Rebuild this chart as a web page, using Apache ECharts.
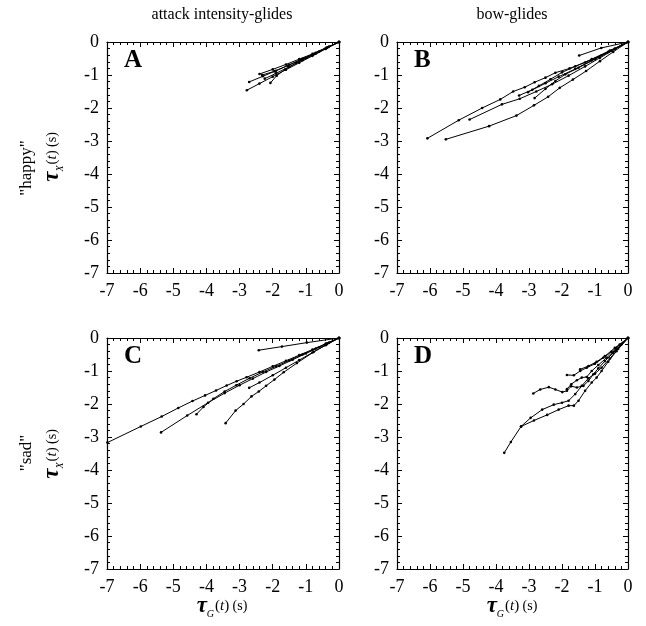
<!DOCTYPE html>
<html>
<head>
<meta charset="utf-8">
<script src="https://cdn.jsdelivr.net/npm/echarts@6/dist/echarts.min.js"></script>
<style>
html,body{margin:0;padding:0;background:#fff;}
#chart{width:646px;height:626px;}
</style>
</head>
<body>
<div id="chart"></div>
<script>
// ---- tick values ----
var tickMin = -7, tickMax = 0, tickStep = 1;

// ---- titles / labels ----
var columnTitles = ['attack intensity-glides', 'bow-glides'];
var rowLabels = ['"happy"', '"sad"'];
var panelLetters = ['A', 'B', 'C', 'D'];

// ---- Panel A: "happy", attack intensity-glides ----
var A1 = [[-2.78,-1.46],[-2.4,-1.26],[-2.0,-1.05],[-1.6,-0.84],[-1.2,-0.63],[-0.8,-0.42],[-0.4,-0.21],[0,0]];
var A2 = [[-2.71,-1.21],[-2.3,-1.04],[-1.9,-0.87],[-1.5,-0.69],[-1.1,-0.51],[-0.7,-0.33],[-0.35,-0.16],[0,0]];
var A3 = [[-2.40,-0.97],[-2.0,-0.83],[-1.6,-0.68],[-1.2,-0.52],[-0.8,-0.36],[-0.4,-0.18],[0,0]];
var A4 = [[-2.07,-1.24],[-1.88,-1.02],[-1.62,-0.83],[-1.3,-0.64],[-1.0,-0.48],[-0.6,-0.29],[-0.3,-0.14],[0,0]];
var A5 = [[-2.24,-1.11],[-1.9,-0.95],[-1.5,-0.75],[-1.1,-0.55],[-0.7,-0.35],[-0.35,-0.17],[0,0]];
var A6 = [[-2.32,-1.0],[-1.95,-0.89],[-1.55,-0.72],[-1.15,-0.54],[-0.75,-0.36],[-0.38,-0.18],[0,0]];

// ---- Panel B: "happy", bow-glides ----
var B1 = [[-6.08,-2.92],[-5.13,-2.37],[-4.42,-2.0],[-3.87,-1.74],[-3.48,-1.5],[-3.13,-1.37],[-2.83,-1.22],[-2.5,-1.08],[-2.2,-0.93],[-1.77,-0.8],[-1.3,-0.62],[-0.8,-0.4],[-0.4,-0.2],[0,0]];
var B2 = [[-5.52,-2.95],[-4.21,-2.55],[-3.38,-2.23],[-2.85,-1.92],[-2.42,-1.66],[-2.07,-1.39],[-1.67,-1.14],[-1.27,-0.88],[-0.85,-0.58],[-0.45,-0.3],[0,0]];
var B3 = [[-4.80,-2.35],[-3.82,-1.89],[-3.28,-1.72],[-2.78,-1.5],[-2.3,-1.28],[-1.8,-1.02],[-1.3,-0.74],[-0.85,-0.48],[-0.4,-0.22],[0,0]];
var B4 = [[-3.30,-1.62],[-2.9,-1.45],[-2.5,-1.25],[-2.1,-1.05],[-1.6,-0.82],[-1.1,-0.56],[-0.6,-0.3],[0,0]];
var B5 = [[-2.83,-1.70],[-2.5,-1.42],[-2.2,-1.18],[-1.9,-0.98],[-1.5,-0.78],[-1.0,-0.52],[-0.5,-0.26],[0,0]];
var B6 = [[-3.03,-1.52],[-2.7,-1.33],[-2.35,-1.13],[-2.0,-0.92],[-1.6,-0.74],[-1.1,-0.52],[-0.55,-0.26],[0,0]];
var B7 = [[-1.48,-0.41],[-0.81,-0.18],[0,0]];

// ---- Panel C: "sad", attack intensity-glides ----
var C1 = [[-6.99,-3.17],[-5.98,-2.68],[-5.35,-2.38],[-4.85,-2.12],[-4.42,-1.91],[-4.04,-1.74],[-3.71,-1.59],[-3.39,-1.44],[-3.09,-1.31],[-2.79,-1.19],[-2.4,-1.03],[-2.0,-0.86],[-1.6,-0.69],[-1.2,-0.52],[-0.8,-0.35],[-0.4,-0.17],[0,0]];
var C2 = [[-5.37,-2.86],[-4.58,-2.35],[-3.95,-1.96],[-3.45,-1.67],[-3.0,-1.43],[-2.6,-1.23],[-2.2,-1.03],[-1.8,-0.85],[-1.4,-0.66],[-1.0,-0.47],[-0.6,-0.28],[-0.3,-0.14],[0,0]];
var C3 = [[-4.30,-2.31],[-4.09,-2.09],[-3.79,-1.84],[-3.45,-1.62],[-3.1,-1.43],[-2.7,-1.22],[-2.3,-1.03],[-1.9,-0.86],[-1.5,-0.68],[-1.1,-0.5],[-0.7,-0.32],[-0.35,-0.16],[0,0]];
var C4 = [[-3.42,-2.58],[-3.12,-2.2],[-2.88,-2.0],[-2.64,-1.77],[-2.42,-1.62],[-2.2,-1.45],[-1.95,-1.26],[-1.67,-1.04],[-1.27,-0.76],[-0.76,-0.42],[-0.38,-0.2],[0,0]];
var C5 = [[-2.71,-1.51],[-2.4,-1.35],[-2.0,-1.13],[-1.6,-0.9],[-1.2,-0.67],[-0.8,-0.44],[-0.4,-0.22],[0,0]];
var C6 = [[-2.42,-0.37],[-1.72,-0.26],[-0.97,-0.14],[0,0]];

// ---- Panel D: "sad", bow-glides ----
var D1 = [[-3.75,-3.48],[-3.55,-3.15],[-3.24,-2.68],[-2.95,-2.42],[-2.6,-2.17],[-2.25,-2.02],[-2.0,-1.96],[-1.8,-1.9],[-1.6,-1.7],[-1.4,-1.45],[-1.2,-1.22],[-1.0,-1.08],[-0.8,-0.9],[-0.55,-0.62],[-0.3,-0.33],[0,0]];
var D2 = [[-3.24,-2.68],[-2.85,-2.5],[-2.45,-2.33],[-2.1,-2.17],[-1.8,-2.05],[-1.64,-2.05],[-1.5,-1.9],[-1.3,-1.6],[-1.1,-1.35],[-0.95,-1.2],[-0.8,-1.0],[-0.6,-0.72],[-0.35,-0.4],[0,0]];
var D3 = [[-2.87,-1.68],[-2.66,-1.56],[-2.4,-1.49],[-2.2,-1.56],[-1.99,-1.64],[-1.85,-1.6],[-1.72,-1.46],[-1.55,-1.5],[-1.35,-1.45],[-1.2,-1.3],[-1.05,-1.1],[-0.9,-0.92],[-0.7,-0.7],[-0.45,-0.45],[-0.2,-0.2],[0,0]];
var D4 = [[-1.85,-1.12],[-1.64,-1.13],[-1.45,-1.0],[-1.25,-0.9],[-1.0,-0.78],[-0.75,-0.6],[-0.5,-0.42],[-0.25,-0.2],[0,0]];
var D5 = [[-1.85,-1.55],[-1.72,-1.4],[-1.55,-1.28],[-1.4,-1.2],[-1.25,-1.18],[-1.1,-1.0],[-0.9,-0.82],[-0.65,-0.6],[-0.35,-0.33],[0,0]];
var D6 = [[-1.45,-0.95],[-1.2,-0.85],[-0.95,-0.72],[-0.7,-0.55],[-0.4,-0.3],[0,0]];

var panels = [
  [A1, A2, A3, A4, A5, A6],
  [B1, B2, B3, B4, B5, B6, B7],
  [C1, C2, C3, C4, C5, C6],
  [D1, D2, D3, D4, D5, D6]
];

// ---- layout ----
var SERIF = '"Liberation Serif", "DejaVu Serif", serif';
var grids = [
  {left: 107, top: 42, width: 232, height: 231},
  {left: 397, top: 42, width: 231, height: 231},
  {left: 107, top: 338, width: 232, height: 231},
  {left: 397, top: 338, width: 231, height: 231}
];

var xAxes = [], yAxes = [], series = [];
grids.forEach(function (g, i) {
  var common = {
    type: 'value', gridIndex: i, min: tickMin, max: tickMax, interval: tickStep,
    axisLine: {show: true, onZero: false, lineStyle: {color: '#000', width: 1.2}},
    axisTick: {show: true, inside: true, length: 5, lineStyle: {color: '#000', width: 1}},
    minorTick: {show: true, splitNumber: 5, length: 3, lineStyle: {color: '#000', width: 1}},
    splitLine: {show: false}, minorSplitLine: {show: false}
  };
  xAxes.push(Object.assign({}, common, {
    position: 'bottom',
    axisLabel: {show: true, color: '#000', fontFamily: SERIF, fontSize: 18, margin: 9}
  }));
  xAxes.push(Object.assign({}, common, {position: 'top', axisLabel: {show: false}}));
  yAxes.push(Object.assign({}, common, {
    position: 'left',
    axisLabel: {show: true, color: '#000', fontFamily: SERIF, fontSize: 18, margin: 8}
  }));
  yAxes.push(Object.assign({}, common, {position: 'right', axisLabel: {show: false}}));
  panels[i].forEach(function (d) {
    series.push({
      type: 'line', xAxisIndex: 2 * i, yAxisIndex: 2 * i, data: d,
      showSymbol: true, symbol: 'circle', symbolSize: 2.6,
      itemStyle: {color: '#000'},
      lineStyle: {color: '#000', width: 1},
      silent: true, animation: false, z: 3
    });
  });
});

var graphics = [];
// column titles
graphics.push({type: 'text', x: 222, y: 15, style: {text: columnTitles[0], font: '16px ' + SERIF, fill: '#000', align: 'center', verticalAlign: 'middle'}});
graphics.push({type: 'text', x: 512, y: 15, style: {text: columnTitles[1], font: '16px ' + SERIF, fill: '#000', align: 'center', verticalAlign: 'middle'}});
// panel letters
grids.forEach(function (g, i) {
  graphics.push({type: 'text', x: g.left + 17, y: g.top + 19, style: {text: panelLetters[i], font: 'bold 25px ' + SERIF, fill: '#000', align: 'left', verticalAlign: 'middle'}});
});
var richTau = {
  tau: {fontFamily: SERIF, fontSize: 23, fontStyle: 'italic', fontWeight: 'bold', fill: '#000', verticalAlign: 'middle', lineHeight: 26},
  sub: {fontFamily: SERIF, fontSize: 10, fontStyle: 'italic', fill: '#000', verticalAlign: 'bottom', lineHeight: 26, padding: [0, 1, 0, 0]},
  p: {fontFamily: SERIF, fontSize: 15, fill: '#000', verticalAlign: 'middle', lineHeight: 26},
  it: {fontFamily: SERIF, fontSize: 15, fontStyle: 'italic', fill: '#000', verticalAlign: 'middle', lineHeight: 26},
  s: {fontFamily: SERIF, fontSize: 14, fill: '#000', verticalAlign: 'middle', lineHeight: 26}
};
function tauLabel(subLetter, x, y, rot) {
  return {type: 'text', x: x, y: y, rotation: rot, style: {
    text: '{tau|τ}{sub|' + subLetter + '}{p|(}{it|t}{p|)} {s|(s)}',
    rich: richTau, align: 'center', verticalAlign: 'middle', fill: '#000'
  }};
}
// row labels
graphics.push({type: 'text', x: 27, y: 168, rotation: Math.PI / 2, style: {text: rowLabels[0], font: '17px ' + SERIF, fill: '#000', align: 'center', verticalAlign: 'middle'}});
graphics.push({type: 'text', x: 27, y: 453, rotation: Math.PI / 2, style: {text: rowLabels[1], font: '17px ' + SERIF, fill: '#000', align: 'center', verticalAlign: 'middle'}});
graphics.push(tauLabel('X', 52, 157, Math.PI / 2));
graphics.push(tauLabel('X', 52, 454, Math.PI / 2));
// x axis names
graphics.push(tauLabel('G', 222, 606, 0));
graphics.push(tauLabel('G', 512, 606, 0));

var chart = echarts.init(document.getElementById('chart'), null, {renderer: 'canvas'});
chart.setOption({
  animation: false,
  backgroundColor: '#fff',
  grid: grids,
  xAxis: xAxes,
  yAxis: yAxes,
  series: series,
  graphic: graphics
});
</script>
</body>
</html>
